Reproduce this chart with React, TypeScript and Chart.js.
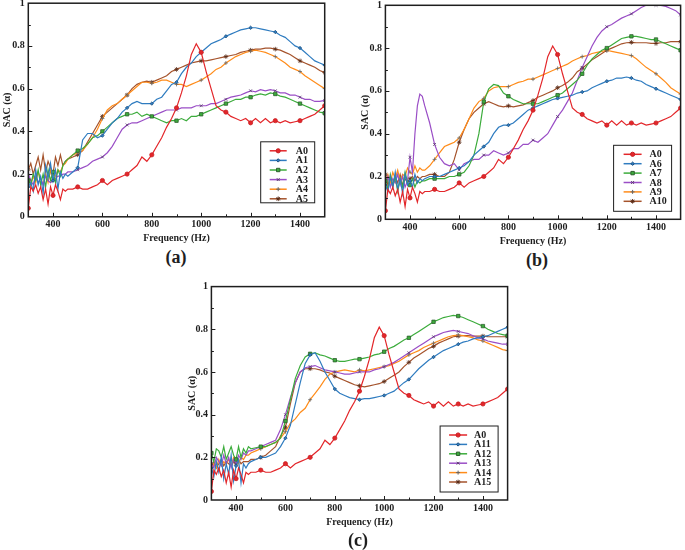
import React, { useEffect, useRef } from "react";
import { Chart, registerables } from "chart.js";
import * as helpers from "chart.js/helpers";

Chart.register(...registerables);

// ---------------- DATA ----------------
const freq = [
  300, 310, 320, 330, 340, 350, 360, 370, 380, 390, 400, 410, 420, 430, 440, 450, 460,
  480, 500, 520, 540, 560, 580, 600, 620, 640, 660,
  680, 700, 720, 740, 760, 780, 800, 820, 840, 860,
  880, 900, 920, 940, 960, 980, 1000, 1020, 1040, 1060,
  1080, 1100, 1120, 1140, 1160, 1180, 1200, 1220, 1240, 1260,
  1280, 1300, 1320, 1340, 1360, 1380, 1400, 1420, 1440, 1460,
  1480, 1500,
];

const A0 = [
  0.04, 0.14, 0.12, 0.15, 0.11, 0.14, 0.08, 0.13, 0.06, 0.14, 0.10, 0.15, 0.12, 0.08, 0.13, 0.12, 0.13,
  0.13, 0.14, 0.13, 0.13, 0.14, 0.15, 0.17, 0.15, 0.17, 0.18,
  0.19, 0.20, 0.22, 0.24, 0.28, 0.26, 0.29, 0.33, 0.37, 0.42,
  0.46, 0.51, 0.58, 0.66, 0.76, 0.81, 0.77, 0.68, 0.60, 0.52,
  0.50, 0.49, 0.47, 0.46, 0.45, 0.46, 0.44, 0.46, 0.44, 0.46,
  0.44, 0.45, 0.44, 0.45, 0.44, 0.445, 0.45, 0.46, 0.47, 0.48,
  0.50, 0.52,
];

// ----- panel (a)
const A1 = [
  0.14, 0.16, 0.12, 0.22, 0.15, 0.19, 0.11, 0.24, 0.18, 0.25, 0.17, 0.22, 0.13, 0.21, 0.18, 0.20, 0.19,
  0.21, 0.23, 0.36, 0.39, 0.39, 0.37, 0.38, 0.41, 0.44, 0.46,
  0.49, 0.51, 0.53, 0.54, 0.53, 0.53, 0.53, 0.55, 0.56, 0.59,
  0.62, 0.63, 0.67, 0.70, 0.72, 0.75, 0.77, 0.79, 0.81, 0.82,
  0.83, 0.845, 0.855, 0.865, 0.875, 0.88, 0.885, 0.885, 0.88, 0.875,
  0.87, 0.865, 0.85, 0.84, 0.82, 0.80, 0.79, 0.77, 0.75, 0.73,
  0.72, 0.71,
];
const A2 = [
  0.17, 0.15, 0.20, 0.17, 0.22, 0.15, 0.20, 0.14, 0.22, 0.17, 0.21, 0.16, 0.22, 0.19, 0.24, 0.26, 0.27,
  0.29, 0.31, 0.32, 0.34, 0.37, 0.38, 0.40, 0.42, 0.44, 0.46,
  0.47, 0.48, 0.48, 0.49, 0.47, 0.48, 0.47, 0.46, 0.45, 0.44,
  0.45, 0.45, 0.46, 0.45, 0.47, 0.47, 0.48, 0.49, 0.50, 0.51,
  0.52, 0.53, 0.54, 0.55, 0.55, 0.56, 0.56, 0.57, 0.575, 0.57,
  0.58, 0.575, 0.565, 0.56, 0.55, 0.54, 0.53, 0.52, 0.51, 0.50,
  0.49, 0.485,
];
const A3 = [
  0.20, 0.17, 0.15, 0.19, 0.16, 0.18, 0.15, 0.19, 0.17, 0.16, 0.17, 0.18, 0.19, 0.19, 0.20, 0.20, 0.21,
  0.21, 0.22, 0.23, 0.24, 0.26, 0.27, 0.28, 0.30, 0.33, 0.37,
  0.41, 0.43, 0.44, 0.44, 0.45, 0.46, 0.47, 0.48, 0.49, 0.50,
  0.50, 0.50, 0.51, 0.51, 0.51, 0.52, 0.52, 0.52, 0.53, 0.53,
  0.54, 0.55, 0.56, 0.565, 0.57, 0.58, 0.59, 0.585, 0.595, 0.59,
  0.595, 0.59, 0.58, 0.58, 0.57, 0.57, 0.56, 0.55, 0.55, 0.54,
  0.54, 0.545,
];
const A4 = [
  0.18, 0.15, 0.19, 0.16, 0.21, 0.18, 0.15, 0.20, 0.16, 0.22, 0.17, 0.19, 0.22, 0.21, 0.24, 0.25, 0.27,
  0.29, 0.30, 0.31, 0.34, 0.37, 0.41, 0.46, 0.50, 0.52, 0.53,
  0.55, 0.57, 0.59, 0.61, 0.63, 0.63, 0.625, 0.63, 0.64, 0.64,
  0.63, 0.62, 0.62, 0.61, 0.62, 0.63, 0.64, 0.655, 0.67, 0.69,
  0.70, 0.72, 0.735, 0.75, 0.76, 0.77, 0.775, 0.78, 0.775, 0.77,
  0.76, 0.75, 0.735, 0.72, 0.70, 0.69, 0.68, 0.66, 0.645, 0.63,
  0.615, 0.60,
];
const A5 = [
  0.22, 0.25, 0.20, 0.24, 0.28, 0.22, 0.29, 0.21, 0.26, 0.23, 0.20, 0.28, 0.24, 0.29, 0.24, 0.26, 0.27,
  0.28, 0.29, 0.31, 0.35, 0.39, 0.43, 0.47, 0.49, 0.51, 0.53,
  0.55, 0.57, 0.60, 0.62, 0.63, 0.635, 0.63, 0.64, 0.65, 0.66,
  0.68, 0.69, 0.70, 0.71, 0.72, 0.725, 0.73, 0.73, 0.735, 0.74,
  0.745, 0.75, 0.755, 0.76, 0.77, 0.775, 0.78, 0.785, 0.785, 0.79,
  0.79, 0.785, 0.78, 0.77, 0.76, 0.745, 0.73, 0.72, 0.71, 0.70,
  0.685, 0.675,
];

// ----- panel (b)
const A6 = [
  0.16, 0.13, 0.20, 0.15, 0.22, 0.14, 0.19, 0.12, 0.21, 0.16, 0.18, 0.15, 0.21, 0.17, 0.19, 0.18, 0.19,
  0.20, 0.20, 0.20, 0.21, 0.22, 0.23, 0.24, 0.25, 0.27, 0.30,
  0.32, 0.34, 0.36, 0.40, 0.43, 0.44, 0.44, 0.45, 0.47, 0.49,
  0.51, 0.52, 0.53, 0.54, 0.55, 0.56, 0.565, 0.57, 0.575, 0.58,
  0.59, 0.595, 0.60, 0.615, 0.625, 0.635, 0.645, 0.65, 0.66, 0.66,
  0.665, 0.66, 0.65, 0.645, 0.63, 0.62, 0.61, 0.60, 0.59, 0.58,
  0.57, 0.56,
];
const A7 = [
  0.18, 0.14, 0.21, 0.16, 0.20, 0.13, 0.19, 0.15, 0.22, 0.17, 0.16, 0.19, 0.15, 0.18, 0.17, 0.18, 0.18,
  0.19, 0.19, 0.19, 0.19, 0.20, 0.20, 0.21, 0.22, 0.25, 0.30,
  0.40, 0.55, 0.61, 0.63, 0.625, 0.59, 0.575, 0.56, 0.55, 0.54,
  0.54, 0.54, 0.54, 0.55, 0.56, 0.57, 0.58, 0.59, 0.61, 0.63,
  0.65, 0.68, 0.72, 0.75, 0.77, 0.79, 0.80, 0.815, 0.83, 0.845,
  0.85, 0.855, 0.855, 0.85, 0.845, 0.84, 0.84, 0.83, 0.82, 0.81,
  0.80, 0.79,
];
const A8 = [
  0.16, 0.20, 0.15, 0.19, 0.17, 0.21, 0.16, 0.20, 0.15, 0.18, 0.29, 0.22, 0.40, 0.53, 0.585, 0.575, 0.53,
  0.45, 0.35, 0.29, 0.26, 0.25, 0.26, 0.23, 0.26, 0.27, 0.28,
  0.28, 0.30, 0.30, 0.32, 0.31, 0.30, 0.31, 0.33, 0.33, 0.35,
  0.35, 0.37, 0.36, 0.38, 0.40, 0.44, 0.48, 0.51, 0.55, 0.59,
  0.65, 0.71, 0.76, 0.81, 0.85, 0.88, 0.90, 0.91, 0.925, 0.94,
  0.95, 0.96, 0.975, 0.99, 1.0, 1.0, 1.0, 1.0, 0.995, 0.985,
  0.975, 0.955,
];
const A9 = [
  0.18, 0.21, 0.17, 0.22, 0.19, 0.23, 0.18, 0.21, 0.20, 0.24, 0.22, 0.21, 0.25, 0.22, 0.24, 0.23, 0.23,
  0.25, 0.28, 0.31, 0.34, 0.35, 0.36, 0.38, 0.42, 0.47, 0.52,
  0.55, 0.565, 0.60, 0.615, 0.62, 0.62, 0.62, 0.63, 0.64, 0.645,
  0.655, 0.655, 0.665, 0.675, 0.685, 0.695, 0.705, 0.715, 0.725, 0.74,
  0.75, 0.76, 0.765, 0.775, 0.78, 0.785, 0.79, 0.785, 0.78, 0.775,
  0.77, 0.765, 0.75, 0.73, 0.71, 0.695, 0.68, 0.66, 0.64, 0.615,
  0.60, 0.585,
];
const A10 = [
  0.21, 0.16, 0.19, 0.15, 0.20, 0.17, 0.21, 0.16, 0.19, 0.17, 0.19, 0.20, 0.18, 0.20, 0.19, 0.20, 0.20,
  0.21, 0.21, 0.20, 0.20, 0.22, 0.28, 0.36, 0.42, 0.47, 0.50,
  0.52, 0.54, 0.55, 0.54, 0.53, 0.525, 0.53, 0.525, 0.53, 0.535,
  0.545, 0.555, 0.57, 0.58, 0.59, 0.60, 0.615, 0.625, 0.64, 0.66,
  0.69, 0.705, 0.725, 0.745, 0.76, 0.775, 0.79, 0.80, 0.81, 0.82,
  0.825, 0.827, 0.825, 0.825, 0.825, 0.822, 0.822, 0.825, 0.825, 0.83,
  0.83, 0.83,
];

// ----- panel (c)
const A11 = [
  0.15, 0.11, 0.18, 0.13, 0.20, 0.10, 0.17, 0.12, 0.21, 0.09, 0.16, 0.19, 0.08, 0.17, 0.15, 0.17, 0.18,
  0.19, 0.20, 0.20, 0.21, 0.22, 0.25, 0.29, 0.35, 0.45, 0.55,
  0.64, 0.68, 0.69, 0.65, 0.60, 0.56, 0.52, 0.50, 0.49, 0.48,
  0.475, 0.47, 0.475, 0.475, 0.48, 0.485, 0.49, 0.50, 0.51, 0.53,
  0.55, 0.565, 0.59, 0.615, 0.635, 0.655, 0.67, 0.685, 0.70, 0.71,
  0.72, 0.73, 0.74, 0.745, 0.755, 0.76, 0.765, 0.77, 0.78, 0.79,
  0.80, 0.81,
];
const A12 = [
  0.22, 0.18, 0.24, 0.23, 0.20, 0.25, 0.19, 0.22, 0.25, 0.21, 0.19, 0.25, 0.20, 0.24, 0.22, 0.25, 0.24,
  0.245, 0.25, 0.25, 0.26, 0.27, 0.29, 0.37, 0.47, 0.57, 0.63,
  0.67, 0.685, 0.69, 0.68, 0.675, 0.665, 0.655, 0.65, 0.65, 0.655,
  0.66, 0.66, 0.665, 0.67, 0.68, 0.685, 0.695, 0.71, 0.72, 0.735,
  0.75, 0.76, 0.775, 0.79, 0.805, 0.82, 0.835, 0.845, 0.855, 0.86,
  0.865, 0.862, 0.855, 0.845, 0.835, 0.825, 0.815, 0.80, 0.79, 0.78,
  0.775, 0.77,
];
const A13 = [
  0.17, 0.15, 0.20, 0.18, 0.16, 0.21, 0.17, 0.20, 0.15, 0.19, 0.17, 0.21, 0.19, 0.22, 0.21, 0.23, 0.23,
  0.24, 0.25, 0.26, 0.27, 0.28, 0.33, 0.40, 0.48, 0.55, 0.60,
  0.62, 0.625, 0.63, 0.62, 0.61, 0.605, 0.60, 0.595, 0.59, 0.59,
  0.595, 0.60, 0.60, 0.60, 0.61, 0.615, 0.625, 0.635, 0.645, 0.66,
  0.675, 0.69, 0.705, 0.72, 0.735, 0.75, 0.765, 0.775, 0.785, 0.79,
  0.795, 0.79, 0.785, 0.78, 0.77, 0.76, 0.755, 0.745, 0.74, 0.735,
  0.73, 0.73,
];
const A14 = [
  0.14, 0.17, 0.15, 0.19, 0.16, 0.18, 0.17, 0.19, 0.16, 0.20, 0.19, 0.17, 0.20, 0.19, 0.21, 0.21, 0.22,
  0.23, 0.24, 0.25, 0.26, 0.27, 0.29, 0.32, 0.36, 0.38, 0.41,
  0.43, 0.47, 0.50, 0.53, 0.565, 0.59, 0.60, 0.605, 0.61, 0.605,
  0.60, 0.61, 0.605, 0.61, 0.615, 0.62, 0.625, 0.63, 0.64, 0.65,
  0.665, 0.68, 0.69, 0.70, 0.715, 0.725, 0.735, 0.745, 0.755, 0.765,
  0.77, 0.773, 0.77, 0.765, 0.76, 0.75, 0.745, 0.735, 0.725, 0.715,
  0.705, 0.70,
];
const A15 = [
  0.16, 0.18, 0.15, 0.17, 0.19, 0.16, 0.18, 0.17, 0.16, 0.18, 0.17, 0.19, 0.17, 0.18, 0.18, 0.18, 0.19,
  0.19, 0.20, 0.21, 0.23, 0.25, 0.30, 0.34, 0.45, 0.55, 0.60,
  0.615, 0.615, 0.615, 0.61, 0.60, 0.595, 0.58, 0.57, 0.56, 0.55,
  0.54, 0.535, 0.53, 0.535, 0.54, 0.545, 0.555, 0.57, 0.585, 0.60,
  0.625, 0.645, 0.665, 0.68, 0.695, 0.71, 0.72, 0.735, 0.745, 0.755,
  0.765, 0.768, 0.77, 0.77, 0.768, 0.768, 0.768, 0.766, 0.765, 0.765,
  0.765, 0.765,
];

const xTickValues = [400, 600, 800, 1000, 1200, 1400];
const xTickMarks = [400, 500, 600, 700, 800, 900, 1000, 1100, 1200, 1300, 1400];
const yTickValues = [0, 0.2, 0.4, 0.6, 0.8, 1];
const yTickMarks = [0.1, 0.2, 0.3, 0.4, 0.5, 0.6, 0.7, 0.8, 0.9];

const xTitle = "Frequency (Hz)";
const yTitle = "SAC (α)";

// ---------------- STYLES ----------------
const FONT = "'Liberation Serif', 'Times New Roman', serif";
const INK = "#1e1e1e";

const styleRed = { color: "#e3262a", mark: "#c81e22", shape: "circle", r: 2.1 };
const styleBlue = { color: "#2f7cc0", mark: "#1d4f7e", shape: "rectRot", r: 1.7 };
const styleGreen = { color: "#3cac3c", mark: "#2e5e2e", shape: "rect", r: 2.4 };
const stylePurple = { color: "#9a4ec6", mark: "#5a3a6e", shape: "crossRot", r: 2 };
const styleOrange = { color: "#ff8c1a", mark: "#666666", shape: "cross", r: 2 };
const styleBrown = { color: "#a5532c", mark: "#5a2c18", shape: "star", r: 2.3 };

const panels = [
  {
    id: "a",
    caption: "(a)",
    series: [
      { label: "A0", data: A0, st: styleRed },
      { label: "A1", data: A1, st: styleBlue },
      { label: "A2", data: A2, st: styleGreen },
      { label: "A3", data: A3, st: stylePurple },
      { label: "A4", data: A4, st: styleOrange },
      { label: "A5", data: A5, st: styleBrown },
    ],
    box: {
      cl: 0, ct: 0, cw: 335, ch: 246,
      left: 28.3, right: 324.7, top: 2.9, bottom: 216.8,
      yTitleX: 7, xTitleY: 238, capX: 176, capY: 257,
      legend: { r: 10, b: 14, w: 54, h: 61, row0: 9, step: 9.6, lx: 9, llen: 17, tx: 35 },
    },
  },
  {
    id: "b",
    caption: "(b)",
    series: [
      { label: "A0", data: A0, st: styleRed },
      { label: "A6", data: A6, st: styleBlue },
      { label: "A7", data: A7, st: styleGreen },
      { label: "A8", data: A8, st: stylePurple },
      { label: "A9", data: A9, st: styleOrange },
      { label: "A10", data: A10, st: styleBrown },
    ],
    box: {
      cl: 352, ct: 0, cw: 333, ch: 250,
      left: 385.4, right: 680.6, top: 5.3, bottom: 219.3,
      yTitleX: 365, xTitleY: 241, capX: 537, capY: 260,
      legend: { r: 9, b: 8, w: 58, h: 66, row0: 9, step: 9.4, lx: 10, llen: 18, tx: 36 },
    },
  },
  {
    id: "c",
    caption: "(c)",
    series: [
      { label: "A0", data: A0, st: styleRed },
      { label: "A11", data: A11, st: styleBlue },
      { label: "A12", data: A12, st: styleGreen },
      { label: "A13", data: A13, st: stylePurple },
      { label: "A14", data: A14, st: styleOrange },
      { label: "A15", data: A15, st: styleBrown },
    ],
    box: {
      cl: 180, ct: 280, cw: 335, ch: 252,
      left: 211.4, right: 507.6, top: 286.6, bottom: 500,
      yTitleX: 192, xTitleY: 522, capX: 358, capY: 540,
      legend: { r: 9.5, b: 8, w: 58, h: 66, row0: 9, step: 9.4, lx: 9, llen: 18, tx: 34 },
    },
  },
];

const decorPlugin = {
  id: "decor",
  afterDatasetsDraw(chart: any, _args: any, opts: any) {
    const { ctx, chartArea: a, scales } = chart;
    ctx.save();
    // inward tick marks
    ctx.strokeStyle = INK;
    ctx.lineWidth = 1;
    for (const v of xTickMarks) {
      const px = Math.round(scales.x.getPixelForValue(v)) + 0.5;
      const len = v % 200 === 0 ? 4 : 2.5;
      ctx.beginPath();
      ctx.moveTo(px, a.bottom);
      ctx.lineTo(px, a.bottom - len);
      ctx.stroke();
    }
    for (const v of yTickMarks) {
      const py = Math.round(scales.y.getPixelForValue(v)) + 0.5;
      const len = Math.abs((v * 10) % 2) < 0.01 ? 4 : 2.5;
      ctx.beginPath();
      ctx.moveTo(a.left, py);
      ctx.lineTo(a.left + len, py);
      ctx.stroke();
    }
    // frame
    ctx.lineWidth = 1.5;
    ctx.strokeRect(a.left, a.top, a.right - a.left, a.bottom - a.top);

    // legend
    const L = opts.legend;
    if (L) {
      const bx = a.right - L.r - L.w;
      const by = a.bottom - L.b - L.h;
      ctx.fillStyle = "#ffffff";
      ctx.fillRect(bx, by, L.w, L.h);
      ctx.lineWidth = 1;
      ctx.strokeStyle = INK;
      ctx.strokeRect(bx, by, L.w, L.h);
      ctx.font = `bold 10px ${FONT}`;
      ctx.textBaseline = "middle";
      ctx.textAlign = "left";
      chart.data.datasets.forEach((ds: any, i: number) => {
        const y = by + L.row0 + i * L.step;
        ctx.strokeStyle = ds.borderColor;
        ctx.lineWidth = 1.5;
        ctx.beginPath();
        ctx.moveTo(bx + L.lx, y);
        ctx.lineTo(bx + L.lx + L.llen, y);
        ctx.stroke();
        ctx.fillStyle = ds.pointBackgroundColor;
        ctx.strokeStyle = ds.pointBorderColor;
        ctx.lineWidth = 1;
        helpers.drawPoint(
          ctx,
          { pointStyle: ds.pointStyle, radius: ds.markR, borderWidth: 1, rotation: 0 },
          bx + L.lx + L.llen / 2,
          y
        );
        ctx.fillStyle = INK;
        ctx.fillText(ds.label, bx + L.tx, y + 0.5);
      });
    }
    ctx.restore();
  },
};

function Panel({ p }: { p: any }) {
  const ref = useRef<HTMLCanvasElement | null>(null);
  const B = p.box;

  useEffect(() => {
    const canvas = ref.current;
    if (!canvas) return;
    const tickFont = { family: FONT, weight: "bold" as const, size: 10 };
    const titleFont = { family: FONT, weight: "bold" as const, size: 10, lineHeight: 1.2 };

    const chart = new Chart(canvas, {
      type: "line",
      data: {
        datasets: p.series.map((s: any) => ({
          label: s.label,
          data: freq.map((f, i) => ({ x: f, y: s.data[i] })),
          borderColor: s.st.color,
          backgroundColor: s.st.color,
          borderWidth: 1.2,
          pointStyle: s.st.shape,
          markR: s.st.r,
          pointRadius: (ctx: any) => (freq[ctx.dataIndex] % 100 === 0 ? s.st.r : 0),
          pointHoverRadius: 0,
          pointBackgroundColor: s.st.color,
          pointBorderColor: s.st.mark,
          pointBorderWidth: 0.8,
          tension: 0,
          fill: false,
        })),
      },
      options: {
        responsive: false,
        maintainAspectRatio: false,
        animation: false,
        events: [],
        layout: {
          padding: {
            left: 0,
            top: B.top - B.ct,
            right: B.cl + B.cw - B.right,
            bottom: 0,
          },
        },
        plugins: {
          legend: { display: false },
          tooltip: { enabled: false },
          decor: { legend: B.legend },
        } as any,
        scales: {
          x: {
            type: "linear",
            min: 300,
            max: 1500,
            afterBuildTicks: (s: any) => {
              s.ticks = xTickValues.map((v) => ({ value: v }));
            },
            afterFit: (s: any) => {
              s.height = B.ct + B.ch - B.bottom;
              s.paddingLeft = 0;
              s.paddingRight = 0;
            },
            grid: { display: false, drawTicks: false },
            border: { display: false },
            ticks: {
              font: tickFont,
              color: INK,
              padding: 2,
              maxRotation: 0,
              autoSkip: false,
              callback: (v: any) => String(v),
            },
            title: {
              display: true,
              text: xTitle,
              font: titleFont,
              color: INK,
              padding: { top: 0, bottom: B.ct + B.ch - B.xTitleY - 6 },
            },
          },
          y: {
            type: "linear",
            min: 0,
            max: 1,
            afterBuildTicks: (s: any) => {
              s.ticks = yTickValues.map((v) => ({ value: v }));
            },
            afterFit: (s: any) => {
              s.width = B.left - B.cl;
              s.paddingTop = 0;
              s.paddingBottom = 0;
            },
            grid: { display: false, drawTicks: false },
            border: { display: false },
            ticks: {
              font: tickFont,
              color: INK,
              padding: 3.5,
              autoSkip: false,
              callback: (v: any) => String(v),
            },
            title: {
              display: true,
              text: yTitle,
              font: titleFont,
              color: INK,
              padding: { top: B.yTitleX - B.cl - 6, bottom: 0 },
            },
          },
        },
      } as any,
      plugins: [decorPlugin as any],
    });
    return () => chart.destroy();
  }, []);

  return (
    <>
      <canvas
        ref={ref}
        width={B.cw}
        height={B.ch}
        style={{
          position: "absolute",
          left: B.cl,
          top: B.ct,
          width: B.cw,
          height: B.ch,
          display: "block",
        }}
      />
      <div
        style={{
          position: "absolute",
          left: B.capX,
          top: B.capY,
          transform: "translate(-50%, -50%)",
          fontFamily: FONT,
          fontWeight: "bold",
          fontSize: 18,
          color: INK,
          lineHeight: "20px",
          whiteSpace: "nowrap",
        }}
      >
        {p.caption}
      </div>
    </>
  );
}

export default function App() {
  return (
    <div
      style={{
        position: "absolute",
        left: 0,
        top: 0,
        width: 685,
        height: 550,
        background: "#ffffff",
        overflow: "hidden",
      }}
    >
      {panels.map((p) => (
        <Panel key={p.id} p={p} />
      ))}
    </div>
  );
}
